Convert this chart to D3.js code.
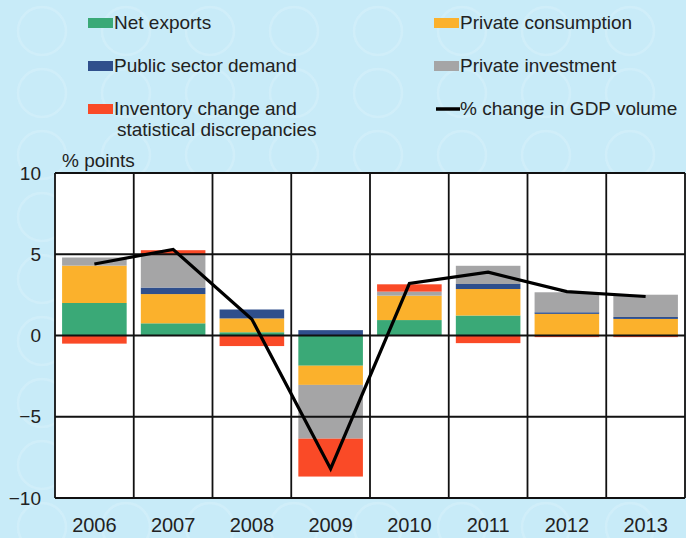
<!DOCTYPE html>
<html>
<head>
<meta charset="utf-8">
<script src="https://cdn.jsdelivr.net/npm/d3@7"></script>
<style>
  body { margin: 0; background: #c8ebf8; }
  svg { display: block; font-family: "Liberation Sans", Arial, sans-serif; }
</style>
</head>
<body>
<svg id="chart" width="686" height="538"></svg>
<script>
const years = ['2006', '2007', '2008', '2009', '2010', '2011', '2012', '2013']
const netExports = [2.0, 0.75, 0.2, -1.86, 0.95, 1.23, 0, 0]
const privateConsumption = [2.3, 1.8, 0.85, -1.18, 1.5, 1.63, 1.33, 1.02]
const publicDemand = [0, 0.4, 0.55, 0.33, 0, 0.31, 0.1, 0.12]
const privateInvestment = [0.5, 2.0, 0, -3.31, 0.25, 1.12, 1.23, 1.37]
const inventory = [-0.5, 0.3, -0.65, -2.33, 0.45, -0.47, -0.1, -0.1]
const gdpChange = [4.4, 5.3, 1.0, -8.2, 3.2, 3.9, 2.7, 2.4]
const yTicks = [10, 5, 0, -5, -10]

const series = [
    {key: 'net', label: 'Net exports', color: '#3aa977', values: netExports},
    {key: 'cons', label: 'Private consumption', color: '#fbb12c', values: privateConsumption},
    {key: 'pub', label: 'Public sector demand', color: '#2f4f8c', values: publicDemand},
    {key: 'inv', label: 'Private investment', color: '#a5a5a6', values: privateInvestment},
    {key: 'stock', label: 'Inventory change and|statistical discrepancies', color: '#fa4a27', values: inventory}
]

const rows = years.map((y, i) => {
    const r = {year: y}
    series.forEach(s => r[s.key] = s.values[i])
    return r
})

const svg = d3.select('#chart')
const width = 686, height = 538
const plot = {left: 55, right: 685, top: 173, bottom: 498}

// faint euro-coin background pattern
const defs = svg.append('defs')
const pat = defs.append('pattern').attr('id', 'coins')
    .attr('width', 84).attr('height', 62).attr('patternUnits', 'userSpaceOnUse')
pat.append('circle').attr('cx', 42).attr('cy', 31).attr('r', 24)
    .attr('fill', 'none').attr('stroke', '#def3fb').attr('stroke-width', 2.5).attr('opacity', 0.35)

svg.append('rect').attr('width', width).attr('height', height).attr('fill', '#c8ebf8')
svg.append('rect').attr('width', width).attr('height', height).attr('fill', 'url(#coins)')

const x = d3.scaleBand().domain(years).range([plot.left, plot.right]).paddingInner(0.18).paddingOuter(0.09)
const y = d3.scaleLinear().domain([-10, 10]).range([plot.bottom, plot.top])

svg.append('rect')
    .attr('x', plot.left).attr('y', plot.top)
    .attr('width', plot.right - plot.left).attr('height', plot.bottom - plot.top)
    .attr('fill', '#fff')

const stack = d3.stack().keys(series.map(s => s.key)).offset(d3.stackOffsetDiverging)
const stacked = stack(rows)

svg.append('g').selectAll('g')
    .data(stacked)
    .join('g')
    .attr('fill', (d, i) => series[i].color)
    .selectAll('rect')
    .data(d => d)
    .join('rect')
    .attr('x', d => x(d.data.year))
    .attr('width', x.bandwidth())
    .attr('y', d => y(Math.max(d[0], d[1])))
    .attr('height', d => Math.abs(y(d[0]) - y(d[1])))

// grid
const grid = svg.append('g').attr('stroke', '#111').attr('stroke-width', 1.8)
grid.selectAll('.h').data(yTicks).join('line')
    .attr('x1', plot.left).attr('x2', plot.right)
    .attr('y1', d => y(d)).attr('y2', d => y(d))
const bounds = years.map(d => x(d) - x.step() * x.paddingInner() / 2).concat([plot.right])
grid.selectAll('.v').data(bounds).join('line')
    .attr('x1', d => Math.max(plot.left, d)).attr('x2', d => Math.max(plot.left, d))
    .attr('y1', plot.top).attr('y2', plot.bottom)

// gdp line
const line = d3.line()
    .x((d, i) => x(years[i]) + x.bandwidth() / 2)
    .y(d => y(d))
svg.append('path')
    .datum(gdpChange)
    .attr('d', line)
    .attr('fill', 'none')
    .attr('stroke', '#000')
    .attr('stroke-width', 3.2)
    .attr('stroke-linejoin', 'miter')

// y axis labels
const yAxis = d3.axisLeft(y).tickValues(yTicks).tickSize(0).tickPadding(14)
const ya = svg.append('g').attr('transform', `translate(${plot.left},0)`).call(yAxis)
ya.select('.domain').remove()
ya.selectAll('text').attr('font-size', 19).attr('fill', '#222').attr('font-family', null)

// x axis labels
const xAxis = d3.axisBottom(x).tickSize(0).tickPadding(20)
const xa = svg.append('g').attr('transform', `translate(0,${plot.bottom})`).call(xAxis)
xa.select('.domain').remove()
xa.selectAll('text').attr('font-size', 20).attr('fill', '#222').attr('font-family', null)

svg.append('text').attr('x', 62).attr('y', 167)
    .attr('font-size', 19).attr('fill', '#222').text('% points')

// legend
const legendPos = [
    {s: 0, x: 88, y: 23}, {s: 1, x: 434, y: 23},
    {s: 2, x: 88, y: 66}, {s: 3, x: 434, y: 66},
    {s: 4, x: 88, y: 109}
]
const leg = svg.append('g').attr('font-size', 19).attr('fill', '#222')
legendPos.forEach(p => {
    const s = series[p.s]
    leg.append('rect').attr('x', p.x).attr('y', p.y - 5).attr('width', 25).attr('height', 10).attr('fill', s.color)
    const lines = s.label.split('|')
    lines.forEach((t, j) => {
        leg.append('text').attr('x', p.x + 26 + (j ? 3 : 0)).attr('y', p.y + 6 + j * 21).text(t)
    })
})
leg.append('line').attr('x1', 436).attr('x2', 460).attr('y1', 109).attr('y2', 109)
    .attr('stroke', '#000').attr('stroke-width', 3.5)
leg.append('text').attr('x', 460).attr('y', 115).text('% change in GDP volume')
</script>
</body>
</html>
